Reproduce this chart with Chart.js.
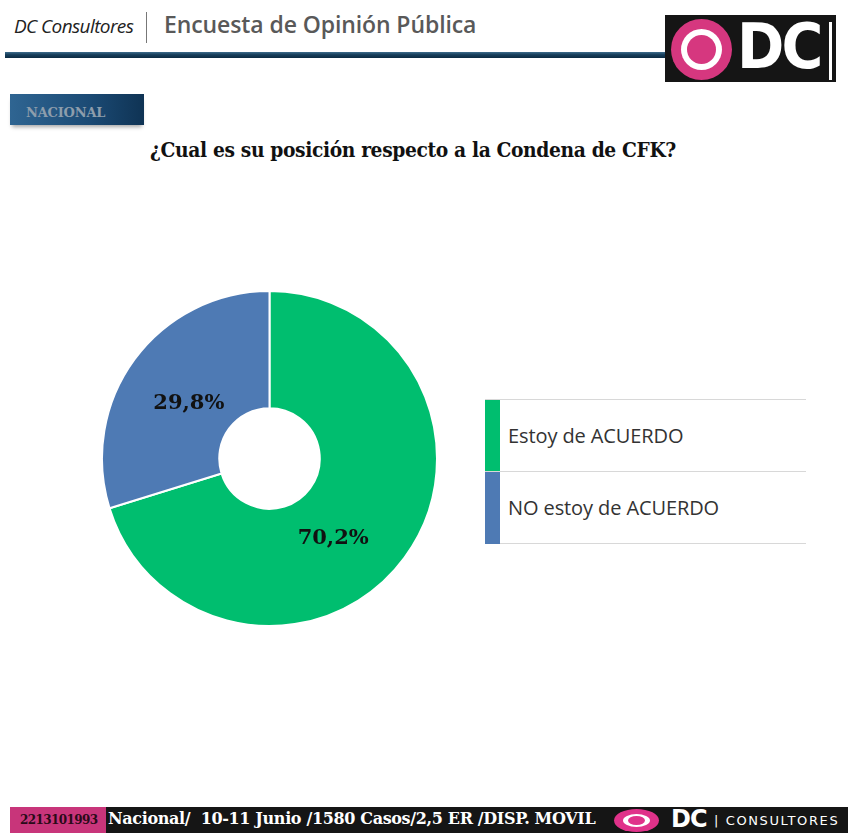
<!DOCTYPE html>
<html>
<head>
<meta charset="utf-8">
<script src="https://cdn.jsdelivr.net/npm/chart.js@4"></script>
<style>
  html, body { margin: 0; padding: 0; background: #fff; }
  body { width: 853px; height: 839px; position: relative; overflow: hidden; font-family: "Open Sans", sans-serif; }
  .abs { position: absolute; }
  #brand { left: 14px; top: 13px; font-size: 19px; font-style: italic; color: #222; letter-spacing: -0.6px; }
  #sep { left: 146px; top: 12px; width: 1px; height: 31px; background: #777; }
  #head { left: 164px; top: 8px; font-size: 23px; font-weight: 600; color: #595959; letter-spacing: -0.1px; }
  #rule { left: 5px; top: 52px; width: 662px; height: 6px; background: linear-gradient(to bottom, #3e6c8c 0%, #173f5c 45%, #0c2b42 100%); }
  #logo { left: 665px; top: 15px; width: 171px; height: 67px; background: #151515; }
  #ring { left: 671px; top: 19px; width: 61px; height: 61px; border-radius: 50%; background: #d6377f; }
  #ring2 { left: 681px; top: 29px; width: 41px; height: 41px; border-radius: 50%; background: #fff; }
  #ring3 { left: 687px; top: 35px; width: 29px; height: 29px; border-radius: 50%; background: #d6377f; }
  #dc { left: 737px; top: 10px; font: bold 62px "DejaVu Sans", sans-serif; color: #fff; letter-spacing: -3px; transform: scaleX(0.92); transform-origin: left; }
  #bar { left: 829px; top: 22px; width: 3px; height: 58px; background: #fff; }
  #nac { left: 10px; top: 94px; width: 134px; height: 31px; background: linear-gradient(to right, #2f6592, #1b4a74 60%, #0f3354); box-shadow: 0 4px 4px -2px rgba(0,0,0,0.35); }
  #nac span { position: absolute; left: 16px; top: 11px; font: bold 13px "DejaVu Serif", serif; color: #8d9dac; letter-spacing: -0.2px; }
  #title { left: 150px; top: 138px; font: bold 20px "DejaVu Serif", serif; color: #111; letter-spacing: -0.4px; white-space: nowrap; transform: scaleX(0.935); transform-origin: left; }
  #chartBox { left: 101px; top: 290px; width: 337px; height: 337px; }
  #legend { left: 485px; top: 399px; width: 321px; }
  .row { position: relative; height: 71px; border-top: 1px solid #d8d8d8; }
  .row:last-child { border-bottom: 1px solid #d8d8d8; }
  .sw { position: absolute; left: 0; top: 0; width: 15px; height: 72px; }
  .lt { position: absolute; left: 23px; top: 22px; font: 20px "Open Sans", sans-serif; color: #333; letter-spacing: -0.1px; }
  #fpink { left: 10px; top: 807px; width: 96px; height: 26px; background: #c8357a; }
  #fpink span { position: absolute; left: 10px; top: 6px; font: bold 12px "DejaVu Serif", serif; color: #2a0a18; letter-spacing: -0.6px; }
  #fblack { left: 106px; top: 807px; width: 742px; height: 26px; background: #151515; }
  #ftext { left: 108px; top: 809px; font: bold 16px "DejaVu Serif", serif; color: #fff; white-space: nowrap; letter-spacing: -0.35px; }
  #fring { left: 614px; top: 809px; width: 45px; height: 23px; border-radius: 50%; background: #e0328a; }
  #fring2 { left: 623px; top: 814px; width: 27px; height: 13px; border-radius: 50%; background: #fff; }
  #fring3 { left: 628px; top: 816px; width: 17px; height: 9px; border-radius: 50%; background: #e0328a; }
  #fdc { left: 671px; top: 805px; font: bold 24px "DejaVu Sans", sans-serif; color: #fff; letter-spacing: -1px; }
  #fcons { left: 714px; top: 813px; font: 13px "DejaVu Sans", sans-serif; color: #fff; letter-spacing: 1.6px; }
</style>
</head>
<body>
<div class="abs" id="brand">DC Consultores</div>
<div class="abs" id="sep"></div>
<div class="abs" id="head">Encuesta de Opinión Pública</div>
<div class="abs" id="rule"></div>
<div class="abs" id="logo"></div>
<div class="abs" id="ring"></div>
<div class="abs" id="ring2"></div>
<div class="abs" id="ring3"></div>
<div class="abs" id="dc">DC</div>
<div class="abs" id="bar"></div>
<div class="abs" id="nac"><span>NACIONAL</span></div>
<div class="abs" id="title">¿Cual es su posición respecto a la Condena de CFK?</div>
<div class="abs" id="chartBox"><canvas id="pie"></canvas></div>
<div class="abs" id="legend"></div>
<div class="abs" id="fpink"><span>2213101993</span></div>
<div class="abs" id="fblack"></div>
<div class="abs" id="ftext">Nacional/&nbsp; 10-11 Junio /1580 Casos/2,5 ER /DISP. MOVIL</div>
<div class="abs" id="fring"></div>
<div class="abs" id="fring2"></div>
<div class="abs" id="fring3"></div>
<div class="abs" id="fdc">DC</div>
<div class="abs" id="fcons">| CONSULTORES</div>

<script>
// datos de la encuesta
const categorias = ["Estoy de ACUERDO", "NO estoy de ACUERDO"];
const valores = [70.2, 29.8];
const etiquetas = ["70,2%", "29,8%"];
const colores = ["#00be6f", "#4e7ab4"];

// etiquetas dentro de cada porcion
const labelPlugin = {
    id: 'sliceLabels',
    afterDatasetsDraw(chart, args, opts) {
        const ctx = chart.ctx;
        const meta = chart.getDatasetMeta(0);
        ctx.save();
        ctx.font = 'bold 21px "DejaVu Serif", serif';
        ctx.fillStyle = '#111';
        ctx.textAlign = 'center';
        ctx.textBaseline = 'middle';
        meta.data.forEach((arc, i) => {
            const p = arc.tooltipPosition();
            const off = opts.offsets[i] || [0, 0];
            ctx.fillText(etiquetas[i], p.x + off[0], p.y + off[1]);
        });
        ctx.restore();
    }
};

const pieChart = new Chart(document.getElementById('pie').getContext('2d'), {
    type: 'doughnut',
    data: {
        labels: categorias,
        datasets: [{
            data: valores,
            backgroundColor: colores,
            borderColor: '#ffffff',
            borderWidth: 2
        }]
    },
    options: {
        responsive: true,
        maintainAspectRatio: false,
        animation: false,
        cutout: '30%',
        plugins: {
            legend: { display: false },
            tooltip: { enabled: false },
            sliceLabels: { offsets: [[-24, 15], [7, 10]] }
        }
    },
    plugins: [labelPlugin]
});

// leyenda a la derecha
const legendEl = document.getElementById('legend');
categorias.forEach((c, i) => {
    const row = document.createElement('div');
    row.className = 'row';
    row.innerHTML = '<div class="sw" style="background:' + colores[i] + '"></div><div class="lt">' + c + '</div>';
    legendEl.appendChild(row);
});
</script>
</body>
</html>
